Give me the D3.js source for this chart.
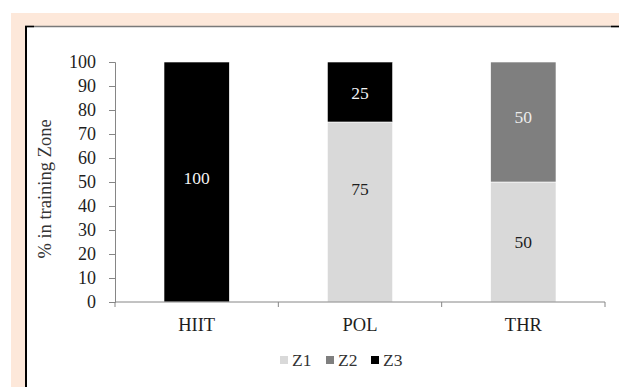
<!DOCTYPE html>
<html>
<head>
<meta charset="utf-8">
<script src="https://cdn.jsdelivr.net/npm/d3@7"></script>
<style>
  html, body { margin: 0; padding: 0; background: #fff; }
  svg { display: block; }
  text { font-family: "Liberation Serif", "Times New Roman", serif; }
</style>
</head>
<body>
<svg id="chart" width="619" height="387"></svg>
<script>
// Training programmes and the share of time spent in each intensity zone (%)
const categories = ["HIIT", "POL", "THR"];
const zones = ["Z1", "Z2", "Z3"];
const z1Values = [0, 75, 50];
const z2Values = [0, 0, 50];
const z3Values = [100, 25, 0];
const yTicks = [0, 10, 20, 30, 40, 50, 60, 70, 80, 90, 100];

const zoneColors = { Z1: "#d9d9d9", Z2: "#7f7f7f", Z3: "#000000" };
const labelColors = { Z1: "#1e1e1e", Z2: "#ececec", Z3: "#f4f4f4" };
// vertical nudge (px) for a few value labels inside the segments
const labelNudge = { "HIIT-Z3": -4, "POL-Z3": 1, "POL-Z1": -23, "THR-Z2": -5, "THR-Z1": 0 };

const rows = categories.map((c, i) => ({ cat: c, Z1: z1Values[i], Z2: z2Values[i], Z3: z3Values[i] }));
const stacked = d3.stack().keys(zones)(rows);

const svg = d3.select("#chart");

// page frame: peach margin with a white panel
svg.append("rect").attr("x", 11).attr("y", 13).attr("width", 608).attr("height", 374).attr("fill", "#fde8da");
svg.append("rect").attr("x", 25).attr("y", 26).attr("width", 594).attr("height", 361).attr("fill", "#ffffff");
svg.append("line").attr("x1", 25).attr("x2", 619).attr("y1", 26.5).attr("y2", 26.5)
  .attr("stroke", "#7a7a7a").attr("stroke-width", 1.5);
svg.append("line").attr("x1", 25).attr("x2", 34).attr("y1", 26.5).attr("y2", 26.5)
  .attr("stroke", "#000").attr("stroke-width", 1.5);
svg.append("line").attr("x1", 611).attr("x2", 619).attr("y1", 26.5).attr("y2", 26.5)
  .attr("stroke", "#000").attr("stroke-width", 1.5);
svg.append("line").attr("x1", 26).attr("x2", 26).attr("y1", 26).attr("y2", 387)
  .attr("stroke", "#000").attr("stroke-width", 2);

const plot = { left: 115, right: 605, top: 62, bottom: 302 };

const x = d3.scaleBand().domain(categories).range([plot.left, plot.right])
  .paddingInner(0.6).paddingOuter(0.3);
const y = d3.scaleLinear().domain([0, 100]).range([plot.bottom, plot.top]);

// bars
const layers = svg.append("g").selectAll("g").data(stacked).join("g")
  .attr("fill", d => zoneColors[d.key]);
layers.selectAll("rect").data(d => d.filter(s => s[1] - s[0] > 0)).join("rect")
  .attr("x", d => x(d.data.cat))
  .attr("width", x.bandwidth())
  .attr("y", d => y(d[1]))
  .attr("height", d => y(d[0]) - y(d[1]))
  .attr("stroke", "#ffffff").attr("stroke-width", 0.6);

// value labels
stacked.forEach(layer => {
  layer.filter(s => s[1] - s[0] > 0).forEach(s => {
    const nudge = labelNudge[`${s.data.cat}-${layer.key}`] || 0;
    svg.append("text")
      .attr("x", x(s.data.cat) + x.bandwidth() / 2)
      .attr("y", y((s[0] + s[1]) / 2) + nudge)
      .attr("dy", "0.35em")
      .attr("text-anchor", "middle")
      .attr("font-size", 17.5)
      .attr("fill", labelColors[layer.key])
      .text(s[1] - s[0]);
  });
});

// y axis
const yAxis = svg.append("g").attr("transform", `translate(${plot.left},0)`)
  .call(d3.axisLeft(y).tickValues(yTicks).tickSize(6).tickPadding(13));
yAxis.select(".domain").attr("stroke", "#868686");
yAxis.selectAll(".tick line").attr("stroke", "#868686");
yAxis.selectAll(".tick text").attr("font-family", "Liberation Serif, serif")
  .attr("font-size", 18).attr("fill", "#1e1e1e");

// x axis: ticks sit between categories
const xAxisG = svg.append("g").attr("transform", `translate(0,${plot.bottom})`);
xAxisG.append("line").attr("x1", plot.left).attr("x2", plot.right)
  .attr("stroke", "#868686");
const bounds = d3.range(categories.length + 1).map(i => plot.left + i * (plot.right - plot.left) / categories.length);
xAxisG.selectAll("line.sep").data(bounds).join("line").attr("class", "sep")
  .attr("x1", d => d).attr("x2", d => d).attr("y1", 0).attr("y2", 5)
  .attr("stroke", "#868686");
xAxisG.selectAll("text").data(categories).join("text")
  .attr("x", d => x(d) + x.bandwidth() / 2)
  .attr("y", 23)
  .attr("dy", "0.35em")
  .attr("text-anchor", "middle")
  .attr("font-size", 18.5)
  .attr("fill", "#1e1e1e")
  .text(d => d);

// y axis title
svg.append("text")
  .attr("transform", `translate(45,${(plot.top + plot.bottom) / 2 + 7}) rotate(-90)`)
  .attr("text-anchor", "middle")
  .attr("dy", "0.35em")
  .attr("font-size", 18.5)
  .attr("fill", "#333333")
  .text("% in training Zone");

// legend
const legendX = [280, 326, 371];
const legend = svg.append("g");
zones.forEach((z, i) => {
  legend.append("rect").attr("x", legendX[i]).attr("y", 356).attr("width", 8).attr("height", 8)
    .attr("fill", zoneColors[z]);
  legend.append("text").attr("x", legendX[i] + 12).attr("y", 360).attr("dy", "0.35em")
    .attr("font-size", 17.5).attr("fill", "#333333").text(z);
});
</script>
</body>
</html>
